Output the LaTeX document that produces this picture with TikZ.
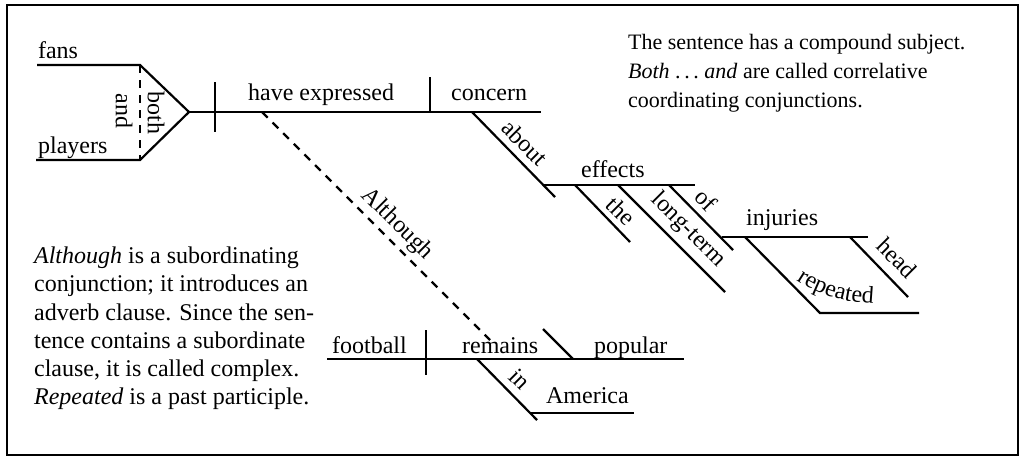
\documentclass[tikz,border=0pt]{standalone}
\usepackage{fontspec}
\setmainfont{Liberation Serif}
\usepackage{tikz}
\usetikzlibrary{calc,positioning}
\usetikzlibrary{decorations.text}

\tikzset{
    word/.style={inner sep=0pt, anchor=base west},
    slant/.style={inner sep=0pt, rotate=-45},
    upright/.style={inner sep=0pt, rotate=-90},
    para/.style={inner sep=0pt, anchor=north west, align=left},
    dashline/.style={dash pattern=on 4pt off 3.5pt},
}

\begin{document}
\begin{tikzpicture}[x=0.5pt, y=-0.5pt, line width=1.1pt, font=\fontsize{12}{14.1}\selectfont]
    \useasboundingbox (0,0) rectangle (1026,466);
    \draw [line width=1pt] (7,5) rectangle (1018,455);

    % main clause
    \coordinate (fansL) at (37,65);
    \coordinate (fansR) at (140,65);
    \coordinate (plyL) at (36,160);
    \coordinate (plyR) at (140,160);
    \coordinate (fork) at (189,112);
    \coordinate (sv) at (215,112);
    \coordinate (vo) at (430,112);
    \coordinate (mainR) at (541,112);

    \node [word] (fans) at (37,58) {fans};
    \node [word] (players) at (37,153) {players};
    \node [upright] (both) at (156,113) {both};
    \node [upright] (and) at (124,111) {and};
    \node [word] (verb) at (247,100) {have expressed};
    \node [word] (obj) at (450,100) {concern};

    \draw (fansL) -- (fansR) -- (fork) -- (plyR) -- (plyL);
    \draw [dashline] (fansR) -- (plyR);
    \draw (fork) -- (mainR);
    \draw (sv) ++(0,-30) -- ++(0,50);
    \draw (vo) -- ++(0,-35);

    % about effects of injuries
    \coordinate (aboutA) at (472,112);
    \coordinate (aboutB) at (555,197);
    \coordinate (effL) at (543,185);
    \coordinate (effR) at (695,185);
    \coordinate (theA) at (575,185);
    \coordinate (longA) at (618,185);
    \coordinate (ofA) at (669,185);
    \coordinate (ofB) at (733,250);
    \coordinate (injL) at (722,237);
    \coordinate (injR) at (868,237);
    \coordinate (headA) at (850,237);
    \coordinate (repA) at (745,237);
    \coordinate (repB) at (820,313);
    \coordinate (repC) at (919,313);

    \node [slant] (about) at (525,143) {about};
    \node [word] (effects) at (580,177) {effects};
    \node [slant] (the) at (621,211) {the};
    \node [slant] (longterm) at (688,230) {long-term};
    \node [slant] (of) at (706,200) {of};
    \node [word] (injuries) at (745,225) {injuries};
    \node [slant] (head) at (897,258) {head};

    \draw (aboutA) -- (aboutB);
    \draw (effL) -- (effR);
    \draw (theA) -- ++(55,57);
    \draw (longA) -- ++(107,107);
    \draw (ofA) -- (ofB);
    \draw (injL) -- (injR);
    \draw (headA) -- ++(58,60);
    \draw (repA) -- (repB) -- (repC);
    \path [decorate, decoration={text along path, text align=center,
        text={|\fontsize{12}{14.1}\selectfont|repeated}}]
        (788,274) .. controls (820,298) and (845,303) .. (884,304);

    % subordinate clause
    \coordinate (althA) at (262,112);
    \coordinate (althB) at (490,340);
    \coordinate (footL) at (327,359);
    \coordinate (footR) at (684,359);
    \coordinate (fr) at (426,359);
    \coordinate (pc) at (573,359);
    \coordinate (inA) at (477,359);
    \coordinate (inB) at (537,420);
    \coordinate (amL) at (531,413);
    \coordinate (amR) at (634,413);

    \node [slant] (although) at (397,224) {Although};
    \node [word] (football) at (331,353) {football};
    \node [word] (remains) at (461,353) {remains};
    \node [word] (popular) at (593,353) {popular};
    \node [slant] (in) at (520,379) {in};
    \node [word] (america) at (545,403) {America};

    \draw [dashline] (althA) -- (althB);
    \draw (footL) -- (footR);
    \draw (fr) ++(0,-29) -- ++(0,45);
    \draw (pc) -- ++(-30,-30);
    \draw (inA) -- (inB);
    \draw (amL) -- (amR);

    % notes
    \node [para, font=\fontsize{11}{14.5}\selectfont] (note1) at (627,33)
        {The sentence has a compound subject.\\
         \textit{Both}\ .\,.\,.\ \textit{and} are called correlative\\
         coordinating conjunctions.};
    \node [para] (note2) at (33,246)
        {\textit{Although} is a subordinating\\
         conjunction; it introduces an\\
         adverb clause. Since the sen-\\
         tence contains a subordinate\\
         clause, it is called complex.\\
         \textit{Repeated} is a past participle.};
\end{tikzpicture}
\end{document}
